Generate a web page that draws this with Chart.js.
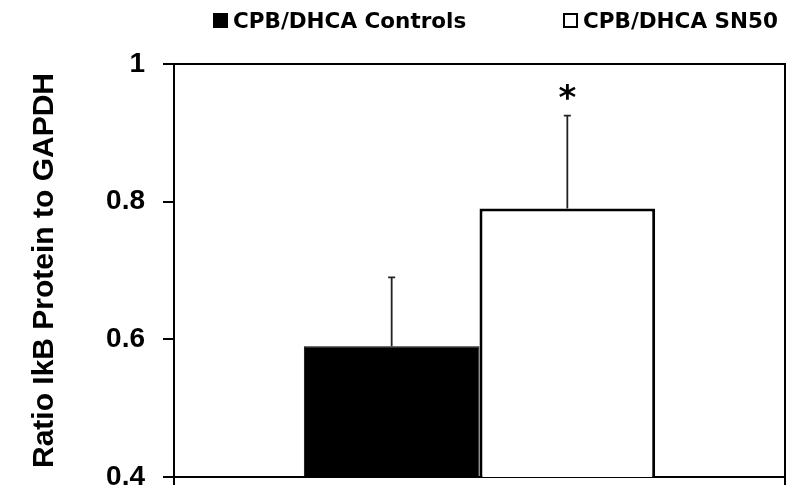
<!DOCTYPE html>
<html>
<head>
<meta charset="utf-8">
<script src="https://cdn.jsdelivr.net/npm/chart.js@4.4.1/dist/chart.umd.min.js"></script>
<style>
  html, body { margin: 0; padding: 0; background: #fff; }
  #wrap { width: 800px; height: 503px; }
</style>
</head>
<body>
<div id="wrap"><canvas id="c" width="800" height="503"></canvas></div>
<script>
const categories = [''];
const seriesLabels = ['CPB/DHCA Controls', 'CPB/DHCA SN50'];
const controlsValues = [0.59];
const sn50Values = [0.79];
const controlsErrTop = [0.69];
const sn50ErrTop = [0.925];
const yTicks = [0.4, 0.6, 0.8, 1];
const significance = ['', '*'];

const errorPlugin = {
  id: 'extras',
  afterDatasetsDraw(chart) {
    const ctx = chart.ctx;
    const y = chart.scales.y;
    const tops = [controlsErrTop, sn50ErrTop];
    chart.data.datasets.forEach((ds, di) => {
      const meta = chart.getDatasetMeta(di);
      meta.data.forEach((bar, i) => {
        const yBar = y.getPixelForValue(ds.data[i]);
        const yTop = y.getPixelForValue(tops[di][i]);
        ctx.save();
        ctx.strokeStyle = '#222';
        ctx.lineWidth = 1.8;
        ctx.beginPath();
        ctx.moveTo(bar.x, yBar);
        ctx.lineTo(bar.x, yTop);
        ctx.moveTo(bar.x - 3.5, yTop);
        ctx.lineTo(bar.x + 3.5, yTop);
        ctx.stroke();
        if (significance[di]) {
          ctx.fillStyle = '#000';
          ctx.font = 'bold 34px "DejaVu Sans"';
          ctx.textAlign = 'center';
          ctx.textBaseline = 'alphabetic';
          ctx.fillText(significance[di], bar.x, yTop - 7);
        }
        ctx.restore();
      });
    });
    // frame top and right
    const a = chart.chartArea;
    ctx.save();
    ctx.strokeStyle = '#000';
    ctx.lineWidth = 2;
    ctx.beginPath();
    ctx.moveTo(a.left, a.top);
    ctx.lineTo(a.right, a.top);
    ctx.lineTo(a.right, a.bottom);
    ctx.stroke();
    ctx.restore();
    // legend
    const items = [{x: 213}, {x: 563}];
    ctx.save();
    ctx.font = 'bold 21.5px "DejaVu Sans"';
    ctx.textBaseline = 'alphabetic';
    ctx.textAlign = 'left';
    chart.data.datasets.forEach((ds, di) => {
      const x = items[di].x;
      ctx.fillStyle = ds.backgroundColor;
      ctx.fillRect(x, 13, 15, 15);
      ctx.strokeStyle = '#000';
      ctx.lineWidth = 2;
      ctx.strokeRect(x + 1, 14, 13, 13);
      ctx.fillStyle = '#000';
      ctx.fillText(ds.label, x + 20, 28);
    });
    ctx.restore();
  }
};

new Chart(document.getElementById('c'), {
  type: 'bar',
  data: {
    labels: categories,
    datasets: [
      { label: seriesLabels[0], data: controlsValues, backgroundColor: '#000', borderColor: '#000', borderWidth: 1 },
      { label: seriesLabels[1], data: sn50Values, backgroundColor: '#fff', borderColor: '#000', borderWidth: 3 }
    ]
  },
  options: {
    responsive: false,
    animation: false,
    devicePixelRatio: 1,
    categoryPercentage: 0.575,
    barPercentage: 1.0,
    layout: { padding: { top: 64, right: 15, left: 0, bottom: 0 } },
    plugins: { legend: { display: false }, tooltip: { enabled: false } },
    scales: {
      x: {
        offset: true,
        ticks: { display: false },
        grid: { drawOnChartArea: false, drawTicks: true, tickLength: 8, color: '#000', lineWidth: 2 },
        border: { display: true, color: '#000', width: 2 },
        afterFit(s) { s.height = 26; s.paddingLeft = 0; s.paddingRight = 0; }
      },
      y: {
        min: 0.4, max: 1,
        afterBuildTicks(s) { s.ticks = yTicks.map(v => ({ value: v })); },
        ticks: {
          color: '#000',
          padding: 18,
          font: { family: '"Liberation Sans"', size: 28, weight: 'bold', lineHeight: 0.7 },
          callback: v => String(v)
        },
        grid: { drawOnChartArea: false, drawTicks: true, tickLength: 11, color: '#000', lineWidth: 2 },
        border: { display: true, color: '#000', width: 2 },
        title: {
          display: true,
          text: 'Ratio IkB Protein to GAPDH',
          color: '#000',
          font: { family: '"Liberation Sans"', size: 30, weight: 'bold' },
          padding: { top: 27, bottom: 0 }
        },
        afterFit(s) { s.width = 174; s.paddingTop = 0; s.paddingBottom = 0; }
      }
    }
  },
  plugins: [errorPlugin]
});
</script>
</body>
</html>
